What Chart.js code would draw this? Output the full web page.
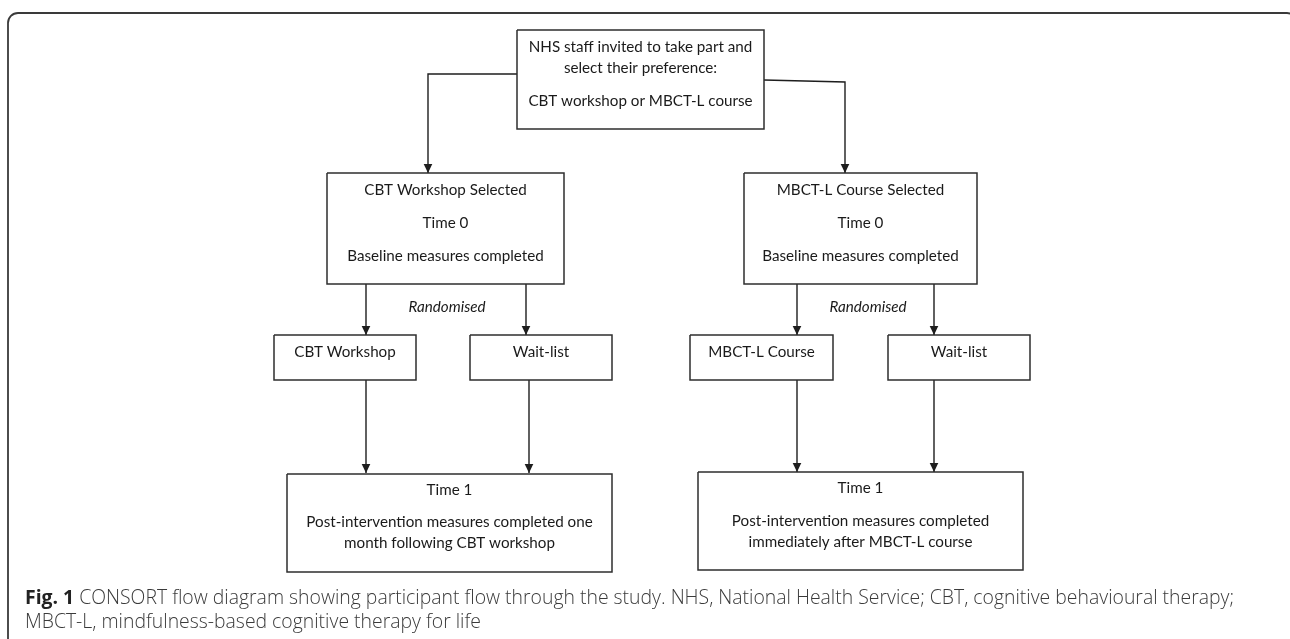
<!DOCTYPE html>
<html>
<head>
<meta charset="utf-8">
<script src="https://cdn.jsdelivr.net/npm/chart.js@4/dist/chart.umd.min.js"></script>
<style>
html,body{margin:0;padding:0;background:#fff;}
canvas{display:block;}
</style>
</head>
<body>
<canvas id="c" width="1290" height="639"></canvas>
<script>
// ---- Diagram content (text) ----
const nodeNames = ['invite','cbtSel','mbctSel','cbtWs','wait1','mbctCourse','wait2','time1a','time1b'];
const nodeLines = [
  ['NHS staff invited to take part and','select their preference:','CBT workshop or MBCT-L course'],
  ['CBT Workshop Selected','Time 0','Baseline measures completed'],
  ['MBCT-L Course Selected','Time 0','Baseline measures completed'],
  ['CBT Workshop'],
  ['Wait-list'],
  ['MBCT-L Course'],
  ['Wait-list'],
  ['Time 1','Post-intervention measures completed one','month following CBT workshop'],
  ['Time 1','Post-intervention measures completed','immediately after MBCT-L course']
];
// node boxes in diagram units (x0, y0, x1, y1)
const nodeLeft   = [517, 327, 744, 274, 470, 690, 888, 287, 698];
const nodeTop    = [ 30, 173, 173, 335, 335, 335, 335, 474, 472];
const nodeRight  = [764, 564, 977, 416, 612, 833, 1030, 612, 1023];
const nodeBottom = [129, 284, 284, 380, 380, 380, 380, 572, 570];
// text rows (diagram units) per node line
const nodeLineY = [
  [47, 68, 101],
  [190, 223, 256],
  [190, 223, 256],
  [352],
  [352],
  [352],
  [352],
  [490, 522, 543],
  [488, 521, 542]
];
// connectors (polylines, arrow at end)
const connectors = [
  [[517,74],[428,74],[428,173]],
  [[764,80],[845,82],[845,173]],
  [[366,284],[366,335]],
  [[526,284],[526,335]],
  [[797,284],[797,335]],
  [[934,284],[934,335]],
  [[366,380],[366,473]],
  [[529,380],[529,473]],
  [[797,380],[797,472]],
  [[934,380],[934,472]]
];
const edgeLabels = ['Randomised','Randomised'];
const edgeLabelX = [447, 868];
const edgeLabelY = [307, 307];

const captionBold = 'Fig. 1';
const captionLine1 = ' CONSORT flow diagram showing participant flow through the study. NHS, National Health Service; CBT, cognitive behavioural therapy;';
const captionLine2 = 'MBCT-L, mindfulness-based cognitive therapy for life';

// ---- build datasets ----
const datasets = [];
nodeNames.forEach((n,i)=>{
  datasets.push({
    label: n,
    data: [
      {x:nodeLeft[i], y:nodeTop[i]},
      {x:nodeRight[i], y:nodeTop[i]},
      {x:nodeRight[i], y:nodeBottom[i]},
      {x:nodeLeft[i], y:nodeBottom[i]},
      {x:nodeLeft[i], y:nodeTop[i]}
    ],
    showLine:true, borderColor:'#2e2e2e', borderWidth:1.5, pointRadius:0,
    fill:false, tension:0, borderJoinStyle:'miter', kind:'box'
  });
});
connectors.forEach((c,i)=>{
  datasets.push({
    label:'edge'+i,
    data: c.map(p=>({x:p[0], y:p[1]})),
    showLine:true, borderColor:'#1e1e1e', borderWidth:1.4, pointRadius:0,
    fill:false, tension:0, kind:'edge'
  });
});

const BOX_FONT = '15.2px Lato, "Open Sans", sans-serif';

const diagramPlugin = {
  id:'diagram',
  beforeDatasetsDraw(chart){
    const {ctx, scales:{x,y}} = chart;
    ctx.save();
    ctx.strokeStyle = '#3a3a3a';
    ctx.lineWidth = 1.8;
    const fx0 = x.getPixelForValue(8), fy0 = y.getPixelForValue(13);
    const fx1 = x.getPixelForValue(1297), fy1 = y.getPixelForValue(660);
    ctx.beginPath();
    ctx.roundRect(fx0, fy0, fx1-fx0, fy1-fy0, 10);
    ctx.stroke();
    ctx.restore();
  },
  afterDatasetsDraw(chart){
    const {ctx, scales:{x,y}} = chart;
    ctx.save();
    chart.data.datasets.forEach(ds=>{
      if(ds.kind!=='edge') return;
      const d = ds.data, n = d.length;
      const px = x.getPixelForValue(d[n-1].x), py = y.getPixelForValue(d[n-1].y);
      const qx = x.getPixelForValue(d[n-2].x), qy = y.getPixelForValue(d[n-2].y);
      const ang = Math.atan2(py-qy, px-qx);
      const L = 9, W = 4.3;
      ctx.fillStyle = '#1e1e1e';
      ctx.beginPath();
      ctx.moveTo(px, py);
      ctx.lineTo(px - L*Math.cos(ang) + W*Math.sin(ang), py - L*Math.sin(ang) - W*Math.cos(ang));
      ctx.lineTo(px - L*Math.cos(ang) - W*Math.sin(ang), py - L*Math.sin(ang) + W*Math.cos(ang));
      ctx.closePath();
      ctx.fill();
    });
    ctx.fillStyle = '#1a1a1a';
    ctx.font = BOX_FONT;
    ctx.textAlign = 'center';
    ctx.textBaseline = 'middle';
    nodeLines.forEach((lines,i)=>{
      const cx = x.getPixelForValue((nodeLeft[i]+nodeRight[i])/2);
      lines.forEach((t,j)=>{
        ctx.fillText(t, cx, y.getPixelForValue(nodeLineY[i][j]));
      });
    });
    ctx.font = 'italic 15.2px Lato, "Open Sans", sans-serif';
    edgeLabels.forEach((t,i)=>{
      ctx.fillText(t, x.getPixelForValue(edgeLabelX[i]), y.getPixelForValue(edgeLabelY[i]));
    });
    ctx.textAlign = 'left';
    ctx.textBaseline = 'middle';
    const capX = x.getPixelForValue(25);
    ctx.font = 'bold 19.4px "Open Sans", sans-serif';
    ctx.fillStyle = '#222';
    ctx.fillText(captionBold, capX, y.getPixelForValue(598));
    const bw = ctx.measureText(captionBold).width;
    ctx.font = '300 19.4px "Open Sans", sans-serif';
    ctx.fillStyle = '#3a3a3a';
    ctx.fillText(captionLine1, capX + bw, y.getPixelForValue(598));
    ctx.fillText(captionLine2, capX, y.getPixelForValue(622));
    ctx.restore();
  }
};

new Chart(document.getElementById('c'), {
  type:'scatter',
  data:{datasets},
  options:{
    responsive:false,
    animation:false,
    events:[],
    layout:{padding:0},
    plugins:{legend:{display:false}, tooltip:{enabled:false}},
    scales:{
      x:{type:'linear', min:0, max:1290, display:false},
      y:{type:'linear', min:0, max:639, reverse:true, display:false}
    }
  },
  plugins:[diagramPlugin]
});
</script>
</body>
</html>
